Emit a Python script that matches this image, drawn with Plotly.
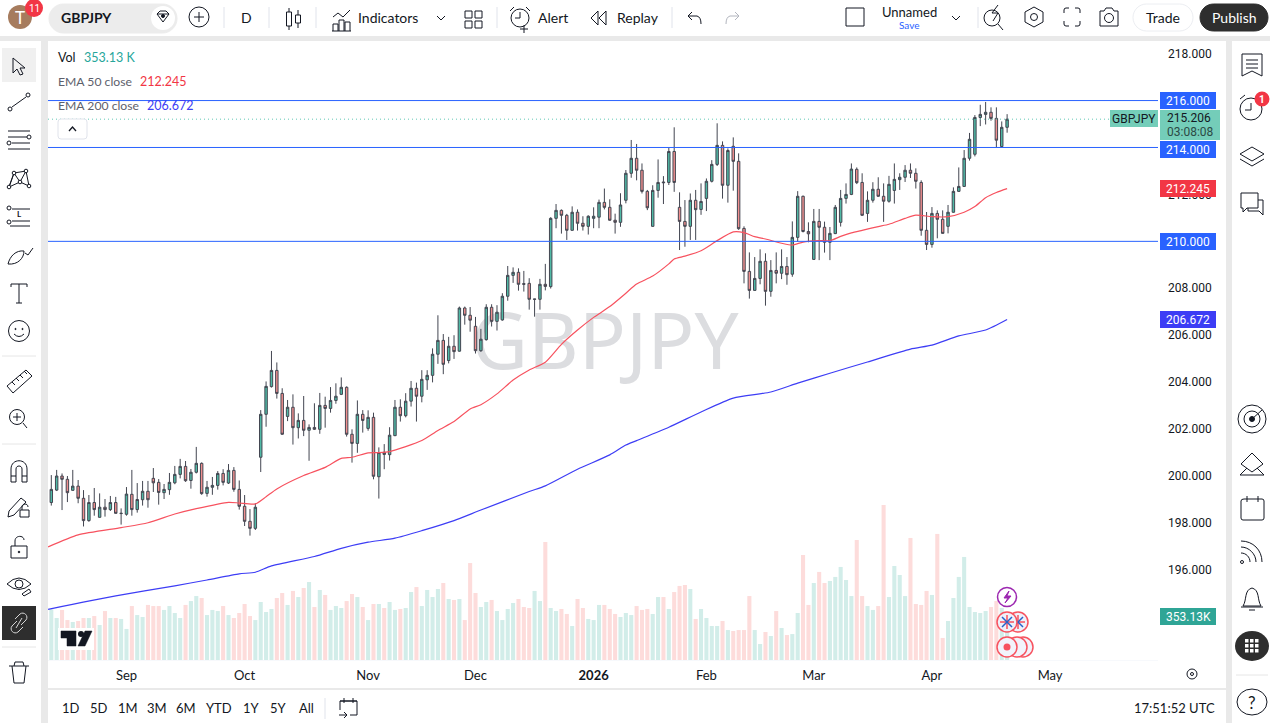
import plotly.graph_objects as go

# ---------- daily candles ----------
opens = [198.87,199.40,200.00,199.86,199.39,199.57,199.05,198.10,198.87,198.24,
         198.67,198.57,198.87,198.40,198.37,199.22,198.57,198.99,199.35,199.90,
         199.73,199.29,199.42,199.71,200.07,200.41,199.81,200.16,200.54,199.26,
         199.52,199.60,200.11,199.70,200.24,199.43,198.71,198.07,197.77,200.80,
         202.63,203.81,204.50,203.52,202.54,202.93,202.06,202.37,201.95,202.07,
         201.99,203.01,202.88,203.22,203.48,203.78,201.78,201.39,202.63,202.03,
         202.50,199.97,201.01,200.91,201.72,202.93,202.57,203.19,203.74,203.40,
         204.10,204.29,205.19,205.78,204.92,205.53,205.32,207.16,206.85,206.38,
         205.34,205.81,207.19,206.59,206.65,207.66,208.55,208.68,208.20,208.21,
         207.53,207.53,208.17,208.07,210.98,211.32,211.11,210.47,211.24,210.77,
         210.64,210.98,211.03,211.66,211.45,210.90,210.81,211.75,212.90,213.54,
         213.03,212.13,210.64,212.17,212.53,212.51,213.83,211.45,210.85,210.64,
         211.75,211.36,211.83,212.56,213.28,214.09,212.39,214.05,213.41,210.55,
         208.72,207.91,208.42,209.15,207.87,208.76,208.64,208.93,208.60,210.17,
         211.92,210.42,209.23,210.85,210.60,209.96,210.33,210.81,211.83,212.00,
         213.07,212.51,211.19,211.75,212.22,211.92,211.71,212.17,212.63,212.73,
         213.03,212.90,212.51,210.47,209.87,211.19,210.94,210.64,211.24,212.13,
         212.34,213.54,213.71,215.28,215.41,215.50,215.24,214.04,214.86]
highs = [200.04,200.26,200.11,200.00,200.26,199.83,199.40,199.19,199.49,199.26,
         199.02,199.15,199.11,198.62,199.53,200.26,199.70,199.79,199.79,200.34,
         199.87,199.66,200.13,200.43,200.73,200.64,200.30,201.24,200.58,199.79,
         199.96,200.21,200.29,200.51,200.38,199.81,199.19,198.59,198.84,202.81,
         204.03,205.33,204.84,203.74,203.24,203.48,202.67,203.41,202.20,203.10,
         203.54,203.38,203.79,203.95,204.20,203.82,201.99,203.22,202.81,202.80,
         202.70,201.22,201.36,202.08,203.24,203.27,203.53,204.05,203.98,204.51,
         204.51,205.44,206.85,206.05,205.93,206.00,207.22,207.22,207.20,206.78,
         206.27,207.32,207.32,207.28,207.79,208.95,208.89,208.85,208.74,208.43,
         207.54,208.40,209.04,211.03,211.59,211.36,211.17,211.49,211.36,211.07,
         211.11,211.45,211.78,212.25,211.79,211.18,212.05,213.04,214.32,214.15,
         213.32,212.19,212.39,213.49,212.78,213.98,214.86,212.09,211.76,212.04,
         212.19,212.47,212.68,213.46,215.03,214.26,213.96,214.43,213.75,210.64,
         209.53,209.33,209.66,209.49,209.20,209.53,209.66,209.33,210.85,212.14,
         211.95,210.81,211.38,211.38,210.84,210.61,211.55,212.19,212.47,213.32,
         213.15,212.90,212.13,212.52,212.73,212.47,212.79,213.32,212.90,213.25,
         213.32,213.11,212.60,211.25,211.46,211.32,211.32,211.55,212.30,213.15,
         213.89,214.62,215.38,215.82,215.94,215.71,215.71,215.11,215.42]
lows = [198.74,199.36,198.55,198.89,199.38,198.84,197.85,198.05,198.31,198.23,
        198.27,198.51,198.40,197.93,198.31,198.31,198.44,198.74,198.65,199.32,
        198.78,199.02,199.20,199.65,199.90,199.75,199.46,200.11,199.20,199.12,
        199.20,199.42,199.60,199.66,199.33,198.57,197.87,197.46,197.70,200.17,
        202.10,203.77,203.30,201.76,202.34,201.34,201.60,201.70,200.65,201.96,
        201.80,202.06,202.70,203.08,203.45,201.68,200.57,200.99,201.85,201.93,
        199.86,199.04,200.29,200.66,201.70,202.32,202.50,202.96,202.32,203.14,
        203.67,203.99,204.78,204.34,204.80,204.99,205.30,206.45,206.15,205.22,
        205.29,205.77,206.37,206.20,206.62,207.47,208.23,207.90,207.86,207.09,
        206.79,207.09,207.91,207.99,210.56,210.33,210.06,210.46,210.46,210.46,
        210.29,210.56,210.56,211.36,210.88,210.33,210.62,211.62,212.71,212.60,
        212.04,211.33,210.62,211.86,211.59,212.40,212.11,209.63,209.77,210.06,
        210.06,211.13,211.29,212.51,213.21,211.82,211.65,212.16,210.49,208.21,
        207.56,207.90,208.17,207.26,207.64,208.21,208.39,208.15,208.49,209.99,
        210.38,209.96,209.22,209.20,209.52,209.20,210.31,210.63,211.61,211.97,
        212.44,211.09,210.83,211.65,211.90,210.83,211.65,211.61,212.19,212.53,
        212.70,212.25,210.24,209.63,209.73,210.13,210.33,210.34,211.22,212.11,
        212.33,213.44,213.62,214.91,214.98,215.14,214.00,214.02,214.63]
closes = [199.43,200.00,199.86,199.29,199.57,199.05,198.10,198.87,198.57,198.67,
          198.57,198.87,198.41,198.41,199.23,198.57,199.00,199.35,198.99,199.71,
          199.30,199.43,199.73,200.07,200.41,199.80,200.16,200.54,199.25,199.52,
          199.60,200.11,199.73,200.24,199.43,198.71,198.07,197.77,198.67,202.63,
          203.82,204.50,203.52,201.78,202.93,202.06,202.37,201.95,202.07,201.99,
          203.01,202.88,203.22,203.40,203.78,201.78,201.39,202.63,202.37,202.50,
          199.99,201.00,200.92,201.74,202.93,202.57,203.19,203.74,203.40,204.12,
          204.29,205.19,205.78,204.76,205.53,205.30,207.16,206.85,206.64,205.34,
          205.83,207.19,206.59,206.98,207.66,208.55,208.68,208.17,208.17,207.53,
          207.54,208.17,208.08,210.98,211.32,211.11,210.47,211.24,210.77,210.64,
          211.07,211.07,211.66,211.45,210.90,210.81,211.55,212.90,213.54,213.03,
          212.13,211.43,212.17,212.51,212.50,213.83,212.51,210.85,210.64,211.75,
          211.35,211.70,212.56,213.28,214.09,212.39,213.87,213.41,210.54,208.72,
          207.91,208.42,209.15,207.87,208.76,208.64,208.93,208.58,210.17,211.92,
          210.42,210.32,210.85,210.60,209.96,210.34,211.45,211.83,212.00,213.08,
          212.50,211.11,211.75,212.22,211.92,211.71,212.43,212.64,212.73,213.03,
          212.90,212.56,210.47,209.87,211.19,210.94,210.34,211.24,212.13,212.34,
          213.54,214.35,215.28,215.41,215.50,215.24,214.31,214.86,215.206]
volumes = [416,345,411,328,312,320,345,345,361,287,402,345,345,337,255,443,369,353,452,443,
           443,411,443,386,345,452,484,525,509,369,411,402,443,369,345,386,460,361,328,476,
           394,419,509,550,452,567,517,591,640,435,575,534,411,443,427,484,542,517,435,328,
           460,460,427,476,411,419,427,558,599,443,575,517,583,632,501,493,501,328,796,550,
           435,476,493,402,328,419,468,501,435,427,567,484,969,427,402,419,378,279,501,427,
           337,328,452,452,419,378,353,386,369,443,411,419,378,517,517,419,558,608,616,583,
           337,419,345,279,279,320,246,238,246,246,525,246,131,230,197,402,263,205,213,386,
           862,452,632,723,632,649,682,764,657,525,985,525,443,411,443,1273,517,772,698,525,
           1002,460,452,567,534,1035,181,320,509,682,846,435,394,386,402,435,484,427,353.13]

# the averages start left of the first candle, the line runs in from the pane edge
ema50_at = [-0.6,5,13,18,23,27,33,35,38,40,42,47,51,54,56,59,61,63,66,69,72,75,78,80,83,86,89,92,95,98,
            101,104,107,109,112,115,116,118,121,124,127,129,131,133,136,138,140,143,145,147,149,151,
            154,156,159,161,164,167,170,172,174,176,178]
ema50 = [196.98,197.49,197.80,198.01,198.38,198.61,198.88,198.85,198.81,199.12,199.45,200.02,200.37,
         200.75,200.80,200.99,201.00,201.04,201.25,201.51,201.94,202.32,202.86,203.04,203.50,204.09,
         204.52,204.85,205.61,206.22,206.76,207.22,207.79,208.18,208.52,209.04,209.25,209.37,209.60,
         210.03,210.40,210.37,210.20,210.10,209.92,209.84,209.97,210.03,210.03,210.21,210.36,210.47,
         210.63,210.73,210.98,211.12,211.05,211.05,211.24,211.48,211.86,212.08,212.245]
ema200_at = [-0.6,12,23,29,35,38,41,49,54,59,64,69,75,80,89,92,98,104,107,109,115,121,127,134,139,145,
             152,160,164,169,174,178]
ema200 = [194.32,194.89,195.32,195.57,195.83,195.90,196.17,196.57,196.92,197.18,197.35,197.67,198.10,
          198.55,199.34,199.58,200.29,200.90,201.32,201.51,202.08,202.73,203.32,203.58,203.96,204.38,
          204.86,205.41,205.58,205.97,206.22,206.672]

levels = [216, 214, 210]
price_ticks = [196,198,200,202,204,206,208,210,212,214,216,218]
month_at = [14,36,59,79,101,122,142,164,186]
month_names = ["Sep","Oct","Nov","Dec","<b>2026</b>","Feb","Mar","Apr","May"]
ranges = [("1D",71),("5D",99),("1M",128),("3M",157),("6M",186),("YTD",219),("1Y",251),("5Y",278),("All",306)]

FONT = "Lato"
NUMS = "Roboto"
INK = "#131722"
days = list(range(len(closes)))
vol_colors = ["#d2ede9" if c >= o else "#fddcdb" for o, c in zip(opens, closes)]

fig = go.Figure()

fig.add_trace(go.Bar(x=days, y=volumes, marker=dict(color=vol_colors, line_width=0), width=0.76, hoverinfo="skip"))
fig.add_trace(go.Scatter(x=[103.1], y=[2553], mode="text", text=["GBPJPY"], hoverinfo="skip",
                         textfont=dict(family="Noto Sans", size=78, color="#dcdde0")))
fig.add_trace(go.Candlestick(x=days, open=opens, high=highs, low=lows, close=closes, yaxis="y2",
                             whiskerwidth=0,
                             increasing=dict(fillcolor="#4fb9a5", line=dict(color="#434651", width=1)),
                             decreasing=dict(fillcolor="#f08f8f", line=dict(color="#434651", width=1))))
fig.add_trace(go.Scatter(x=ema50_at, y=ema50, mode="lines", yaxis="y2",
                         line=dict(color="#f7525f", width=1.2, shape="spline", smoothing=0.6)))
fig.add_trace(go.Scatter(x=ema200_at, y=ema200, mode="lines", yaxis="y2",
                         line=dict(color="#3d3df5", width=1.2, shape="spline", smoothing=0.6)))
# pixel layer, everything around the chart hangs on this one
fig.add_trace(go.Scatter(x=[0, 1270], y=[0, 723], mode="lines", xaxis="x3", yaxis="y3", opacity=0, hoverinfo="skip"))

shapes = []
notes = []

def txt(x, y, s, size=13, color=INK, anchor="center", family=FONT):
    # annotations keep a little padding, take it back so x is where the glyphs start
    nudge = {"left": -2, "right": 2, "center": 0}[anchor]
    notes.append(dict(x=x+nudge, y=y, text=s, xref="x3", yref="y3", showarrow=False, xanchor=anchor, yanchor="middle",
                      font=dict(family=family, size=size, color=color)))

def rect(x0, y0, x1, y1, fill=None, line=None, w=1):
    shapes.append(dict(type="rect", xref="x3", yref="y3", x0=x0, y0=y0, x1=x1, y1=y1, layer="above",
                       fillcolor=fill or "rgba(0,0,0,0)", line=dict(color=line or "rgba(0,0,0,0)", width=w if line else 0)))

def circ(cx, cy, r, fill=None, line=INK, w=1, ry=None):
    ry = ry or r
    shapes.append(dict(type="circle", xref="x3", yref="y3", x0=cx-r, y0=cy-ry, x1=cx+r, y1=cy+ry, layer="above",
                       fillcolor=fill or "rgba(0,0,0,0)", line=dict(color=line or "rgba(0,0,0,0)", width=w if line else 0)))

def path(d, color=INK, w=1, fill=None):
    shapes.append(dict(type="path", xref="x3", yref="y3", path=d, layer="above",
                       fillcolor=fill or "rgba(0,0,0,0)", line=dict(color=color, width=w)))

def pill(x0, y0, x1, y1, fill, line=None):
    r = (y1 - y0) / 2
    k = r * 0.55
    path(f"M{x0+r} {y0} H{x1-r} C{x1-r+k} {y0} {x1} {y0+r-k} {x1} {y0+r} C{x1} {y0+r+k} {x1-r+k} {y1} {x1-r} {y1} "
         f"H{x0+r} C{x0+r-k} {y1} {x0} {y0+r+k} {x0} {y0+r} C{x0} {y0+r-k} {x0+r-k} {y0} {x0+r} {y0} Z",
         line or fill, 1, fill)

# drawn levels and the dotted last price line
for lv in levels:
    shapes.append(dict(type="line", xref="paper", yref="y2", x0=48/1270, x1=1158/1270, y0=lv, y1=lv, layer="above",
                       line=dict(color="#2962ff", width=1)))
shapes.append(dict(type="line", xref="paper", yref="y2", x0=48/1270, x1=1110/1270, y0=closes[-1], y1=closes[-1],
                   layer="above", line=dict(color="#5fc9b5", width=1, dash="1px,3px")))

# gray gutters between the panels
GUT = "#e9e9e9"
rect(0, 36, 1270, 41, GUT)
rect(41, 36, 48, 723, GUT)
rect(1226, 36, 1232, 723, GUT)
rect(48, 688, 1226, 690, GUT)
rect(48, 660, 1158, 660.6, "#f0f3fa")

# top bar
circ(20, 17, 12, "#a67c5e", None)
txt(20, 17, "T", 17, "#ffffff")
circ(34, 8, 9, "#f23645", None)
txt(34, 8, "11", 10, "#ffffff", family=NUMS)
pill(49, 4, 177, 33, "#ececec")
txt(61, 17, "<b>GBPJPY</b>", 14, anchor="left")
circ(163, 18, 12, "#ffffff", None)
path("M157 14 L160 11 H166 L169 14 L163 22 Z M157 14 H169", INK, 1)
circ(163, 16, 1.5, INK)
circ(199, 17, 10)
path("M199 12 V22 M194 17 H204")
for sx, y0, y1 in [(224, 7, 28), (269, 7, 28), (316, 7, 28), (497, 7, 28), (672, 7, 28), (978, 7, 28)]:
    path(f"M{sx} {y0} V{y1}", "#e0e3eb")
txt(246, 17, "D", 14)
path("M289 8 V30 M298 10 V28")
rect(286.5, 12, 291.5, 26, "#ffffff", INK)
rect(295.5, 15, 300.5, 23, "#ffffff", INK)
path("M333 17 L338 13 L343 17 L350 10 M333 31 V24 H338 V31 M339 31 V20 H344 V31 M345 31 V22 H350 V31 M332 31 H351")
txt(358, 17, "Indicators", 14, anchor="left")
path("M437 16 L441 20 L445 16")
for qx, qy in [(465, 11), (475, 11), (465, 21), (475, 21)]:
    rect(qx, qy, qx+7, qy+7, None, INK)
circ(520, 18, 9)
path("M520 12 V18 H515 M510 11 L514 7 M530 11 L526 7 M524 25 V33 M520 29 H528")
txt(538, 17, "Alert", 14, anchor="left")
path("M598 11 L591 18 L598 25 Z M606 11 L599 18 L606 25 Z")
txt(617, 17, "Replay", 14, anchor="left")
path("M688 16 L692 12 M688 16 L692 20 M688 16 H697 Q701 17 701 24")
path("M739 16 L735 12 M739 16 L735 20 M739 16 H730 Q726 17 726 24", "#b2b5be")
rect(846, 8, 864, 26, None, INK)
txt(909, 12, "Unnamed", 13)
txt(909, 25, "Save", 10, "#2962ff")
path("M952 16 L956 20 L960 16")
circ(992, 18, 8)
path("M998 5 L992 13 H998 L993 21 M998 24 L1003 30")
path("M1034 7 L1043 12 V22 L1034 27 L1025 22 V12 Z")
circ(1034, 17, 3.5)
path("M1064 13 V10 Q1064 8 1066 8 H1069 M1075 8 H1078 Q1080 8 1080 10 V13 M1080 21 V24 Q1080 26 1078 26 H1075 M1069 26 H1066 Q1064 26 1064 24 V21")
path("M1100 11 H1104 L1106 8 H1112 L1114 11 H1118 V26 H1100 Z")
circ(1109, 18, 4.5)
pill(1133, 4, 1193, 31, "#ffffff", "#eceef2")
txt(1163, 17, "Trade", 14)
pill(1200, 4, 1268, 31, "#2e2e2e")
txt(1234, 17, "Publish", 14, "#ffffff")

# left toolbar
rect(2, 48, 36, 82, "#f0f0f0")
path("M13 58 L13 73 L17 69 L20 75 L23 74 L20 68 L25 68 Z")
path("M12 107 L26 97")
circ(10, 109, 2); circ(28, 95, 2)
path("M8 131 H30 M8 137 H27 M12 143 H30 M8 149 H30")
circ(29, 137, 2); circ(9, 143, 2)
path("M9 187 L14 173 L20 182 L26 171 L29 186 L20 182 L9 187 M14 173 L26 171 M14 173 L9 187")
for nx, ny in [(9, 187), (14, 173), (26, 171), (29, 186), (20, 182)]:
    circ(nx, ny, 1.8, "#ffffff")
path("M12 209 H30 M12 221 H30 M10 226 H30")
circ(9, 208, 2); circ(9, 222, 2)
txt(19, 214, "<b>L</b>", 8)
path("M8 264 C10 256 16 250 24 251 C24 258 18 265 8 264 Z M25 253 L28 255 L33 248")
path("M11 287 V284 H27 V287 M19 284 V303 M16 303 H22")
circ(19, 331, 10.5)
circ(15.5, 329, 0.6, INK); circ(22.5, 329, 0.6, INK)
path("M14 334 Q19 339 24 334")
path("M7 386 L26 370 L32 376 L13 393 Z M12 382 L15 385 M16 378 L19 381 M20 375 L23 378 M24 371 L27 374")
circ(17, 417, 7.5)
path("M17 413 V421 M13 417 H21 M23 423 L27 428")
path("M11 482 V469 C11 458 27 458 27 469 V482 H22 V469 C22 465 16 465 16 469 V482 Z M11 476 H16 M22 476 H27")
path("M9 511 L21 498 L26 502 L14 515 L8 517 Z")
rect(20, 510, 29, 517, None, INK)
path("M22 510 V507 C22 503 28 503 28 507")
rect(11, 546, 27, 558, None, INK)
path("M15 546 V541 C15 535 24 535 24 540")
circ(19, 552, 0.8, INK)
path("M7 584 Q19 572 31 584 Q19 595 7 584 Z")
circ(19, 584, 4)
path("M22 594 L29 589 L31 592 L24 596 Z")
rect(2, 606, 36, 640, "#2e2e2e")
path("M17 621 L12 626 C9 630 14 635 18 632 L23 627 M21 625 L26 620 C29 616 24 611 20 614 L15 619 M16 628 L22 618", "#d6d6d6")
path("M9 666 H29 M14 666 L15 662 H23 L24 666 M12 666 L14 683 H24 L26 666")
for sy in [356, 444, 647]:
    path(f"M2 {sy} H36", "#e6e6e6")

# right toolbar
path("M1242 54 H1262 V76 L1252 71 L1242 76 Z M1246 60 H1258 M1246 64 H1258 M1246 68 H1258")
circ(1251, 109, 11)
path("M1251 103 V110 H1245 M1240 99 L1245 95")
circ(1262, 99, 7.5, "#f23645", None)
txt(1262, 99, "<b>1</b>", 10, "#ffffff", family=NUMS)
path("M1240 154 L1252 147 L1264 154 L1252 161 Z M1240 159 L1252 166 L1264 159")
path("M1241 193 H1258 V208 H1247 L1243 212 V208 H1241 Z M1258 200 H1263 V215 L1259 211 H1248 V208")
circ(1252, 419, 14); circ(1252, 419, 8); circ(1252, 419, 2.5, INK)
path("M1252 419 L1262 410")
path("M1241 464 L1252 453 L1263 464 L1252 472 Z M1240 475 L1247 468 M1264 475 L1257 468 M1240 475 H1264")
path("M1244 499 H1262 Q1264 499 1264 501 V518 Q1264 520 1262 520 H1243 Q1241 520 1241 518 V501 Q1241 499 1244 499 Z M1247 496 V502 M1258 496 V502")
circ(1242, 562, 1.5)
path("M1241 553 C1246 553 1250 557 1250 562 M1241 547 C1249 547 1256 554 1256 562 M1241 541 C1253 541 1262 550 1262 562")
path("M1243 606 C1247 600 1244 590 1252 588 C1260 590 1257 600 1261 606 Z M1241 607 H1263 M1249 610 H1255")
circ(1252, 646, 17, "#2e2e2e", None, ry=15)
for gx in [1245, 1250, 1255]:
    for gy in [639, 644, 649]:
        rect(gx, gy, gx+3.5, gy+3.5, "#ffffff")
path("M1236 675 H1268", "#e6e6e6")
circ(1252, 702, 15, ry=13)
txt(1252, 702, "?", 17)

# legend top left
txt(58, 57, "Vol", 12.5, anchor="left")
txt(84, 57, "353.13 K", 12.5, "#26a69a", "left")
txt(58, 81, "EMA 50 close", 12.2, "#5d606b", "left")
txt(140, 81, "212.245", 12.5, "#f23645", "left")
txt(58, 105, "EMA 200 close", 12.2, "#5d606b", "left")
txt(147, 105, "206.672", 12.5, "#3d3df5", "left")
path("M61 119 H84 Q87 119 87 122 V136 Q87 139 84 139 H61 Q58 139 58 136 V122 Q58 119 61 119 Z", "#e0e3eb", 1, "#ffffff")
path("M69 131 L72.5 127 L76 131", INK, 1.3)

# tradingview logo, box behind it first
rect(58, 628, 94, 650, "#ffffff")
path("M61 631 H76 V646 H67 V638 H61 Z", "#131722", 0.5, "#131722")
circ(81, 634, 3, "#131722", None)
path("M85 631 H92 L85 646 H78 Z", "#131722", 0.5, "#131722")

# event markers over the volume bars
circ(1007, 597, 9.5, "#ffffff", "#9c27b0", 1.5)
path("M1009 591 L1004 598 H1008 L1005 603 L1011 596 H1007 Z", "#9c27b0", 1, "#9c27b0")
for ex in [1018, 1007]:
    circ(ex, 622, 10, "#eef1fa", "#f7525f", 1.5)
    path(f"M{ex-7} {622} H{ex+7} M{ex} 615 V629", "#f7525f", 1.5)
    path(f"M{ex-5} 617 L{ex+5} 627 M{ex+5} 617 L{ex-5} 627", "#2962c8", 1.5)
for ex in [1023, 1017, 1007]:
    circ(ex, 647, 10, "#f2f3fb", "#f7525f", 1.5)
circ(1007, 647, 3.5, "#f7525f", None)

# price scale boxes
for y0, y1, fill, label in [(92, 109, "#2962ff", "216.000"), (141, 158, "#2962ff", "214.000"),
                            (180, 197, "#f23645", "212.245"), (233, 250, "#2962ff", "210.000"),
                            (311, 328, "#3d3df5", "206.672"), (608, 625, "#2fa596", "353.13K")]:
    rect(1160, y0, 1216, y1, fill)
    txt(1188, (y0+y1)/2, label, 12, "#ffffff", family=NUMS)
rect(1110, 110, 1158, 127, "#74cdb9")
txt(1134, 118.5, "GBPJPY", 12, family=NUMS)
rect(1160, 110, 1220, 140, "#74cdb9")
txt(1167, 118, "215.206", 12, anchor="left", family=NUMS)
txt(1167, 132, "03:08:08", 12, "#2c4a45", "left", family=NUMS)

# bottom bar
for label, bx in ranges:
    txt(bx, 708, label, 13)
path("M325 698 V719", "#e0e3eb")
path("M340 710 V701 H357 V715 H350 M344 698 V703 M353 698 V703 M340 701 H357 M339 715 H347 M344 712 L347 715 L344 718")
txt(1215, 708, "17:51:52 UTC", 13, anchor="right")
circ(1192, 674, 5)
circ(1192, 674, 1.5)

fig.update_layout(
    width=1270, height=723, margin=dict(l=0, r=0, t=0, b=0), autosize=False,
    paper_bgcolor="#ffffff", plot_bgcolor="rgba(0,0,0,0)", showlegend=False, boxgap=0.35,
    font=dict(family=NUMS, color=INK, size=12), shapes=shapes, annotations=notes,
    xaxis=dict(domain=[48/1270, 1158/1270], range=[-0.615, 206.1], rangeslider_visible=False, showgrid=False,
               zeroline=False, tickmode="array", tickvals=month_at, ticktext=month_names, ticks="", ticklabelstandoff=6,
               tickfont=dict(family=FONT, size=13, color=INK), fixedrange=True, anchor="y"),
    yaxis=dict(domain=[1-660/723, 1-40/723], range=[0, 5090], visible=False, fixedrange=True),
    yaxis2=dict(domain=[1-660/723, 1-40/723], overlaying="y", side="right", anchor="x", range=[192.16, 218.58],
                tickmode="array", tickvals=price_ticks, tickformat=".3f", showgrid=False, zeroline=False, ticks="",
                ticklabelstandoff=9, tickfont=dict(size=12, color=INK), fixedrange=True),
    xaxis3=dict(domain=[0, 1], range=[0, 1270], visible=False, fixedrange=True, anchor="y3"),
    yaxis3=dict(domain=[0, 1], range=[723, 0], visible=False, fixedrange=True, anchor="x3"),
)

fig.write_html("out.html", config=dict(displayModeBar=False),
               post_script="document.body.style.margin='0';document.body.style.overflow='hidden';")
